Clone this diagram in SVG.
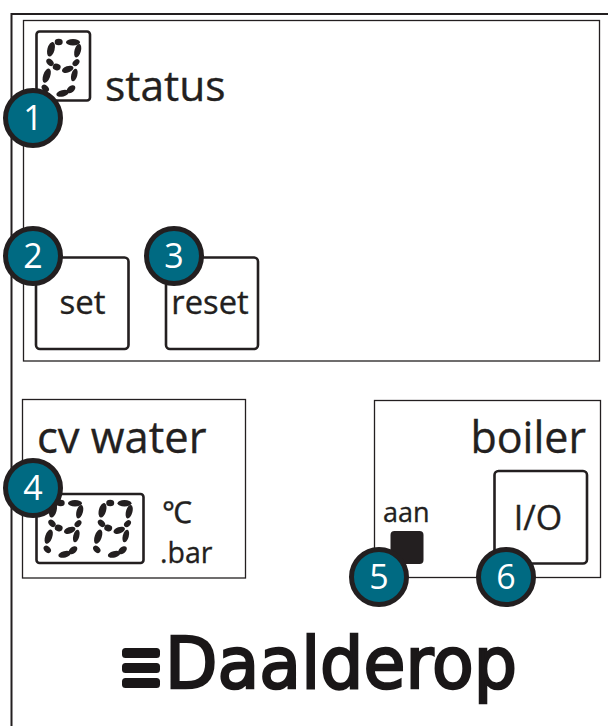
<svg xmlns="http://www.w3.org/2000/svg" width="608" height="726" viewBox="0 0 608 726">
<style>
text{font-family:"Open Sans","Noto Sans","Liberation Sans",sans-serif;fill:#231f20;stroke:#231f20;stroke-width:.35}
.line{fill:none;stroke:#231f20;stroke-width:1.300}
.outer{fill:none;stroke:#231f20;stroke-width:2}
.btn{fill:none;stroke:#231f20;stroke-width:2.600}
.seg{fill:#231f20}
.badge{fill:#006a82;stroke:#231f20;stroke-width:5}
text.num{fill:#fff;stroke:none;font-size:34px;text-anchor:middle}
.sm{font-size:27px}
</style>
<defs>
<g id="digit">
<ellipse class="seg" cx="16.700" cy="3" rx="4" ry="3.200"/>
<ellipse class="seg" cx="31" cy="3.300" rx="7" ry="3.200"/>
<ellipse class="seg" cx="9" cy="10.300" rx="3.600" ry="7.500" transform="rotate(15 9 10.300)"/>
<ellipse class="seg" cx="35.700" cy="11.700" rx="3.200" ry="7" transform="rotate(15 35.700 11.700)"/>
<ellipse class="seg" cx="8" cy="23.300" rx="4.200" ry="3" transform="rotate(45 8 23.300)"/>
<ellipse class="seg" cx="34" cy="23.700" rx="4" ry="2.800" transform="rotate(-45 34 23.700)"/>
<ellipse class="seg" cx="14.700" cy="28" rx="4" ry="3.300" transform="rotate(15 14.700 28)"/>
<ellipse class="seg" cx="25.700" cy="30.300" rx="6" ry="3.200" transform="rotate(-20 25.700 30.300)"/>
<ellipse class="seg" cx="4.700" cy="36.700" rx="3.500" ry="7.500" transform="rotate(20 4.700 36.700)"/>
<ellipse class="seg" cx="32.300" cy="36" rx="3" ry="6.500" transform="rotate(15 32.300 36)"/>
<ellipse class="seg" cx="3.300" cy="49.300" rx="4.200" ry="3" transform="rotate(45 3.300 49.300)"/>
<ellipse class="seg" cx="29" cy="50.300" rx="5" ry="3.200" transform="rotate(-40 29 50.300)"/>
<ellipse class="seg" cx="20.700" cy="54.300" rx="6.500" ry="3.200" transform="rotate(-15 20.700 54.300)"/>
</g>
</defs>
<rect width="608" height="726" fill="#fff"/>
<g id="frame"><path class="outer" d="M11.500 726V14H608"/></g>
<g id="status-panel">
<rect class="line" x="23.500" y="20.500" width="576" height="340.500"/>
<rect class="btn" x="36.500" y="31.500" width="53.500" height="69" rx="3"/>
<use href="#digit" x="42" y="39"/>
<text x="105" y="101" font-size="42.500">status</text>
</g>
<g id="set-button"><rect class="btn" x="36" y="257.500" width="92.500" height="91.500" rx="4"/><text x="82.500" y="314" font-size="33" text-anchor="middle">set</text></g>
<g id="reset-button"><rect class="btn" x="166" y="257.500" width="92" height="91.500" rx="4"/><text x="210" y="314" font-size="32.700" text-anchor="middle">reset</text></g>
<g id="cv-panel">
<rect class="line" x="22.500" y="399.500" width="223" height="178.500"/>
<text x="37" y="453" font-size="43.500">cv water</text>
<rect class="btn" x="36.500" y="494" width="107" height="69" rx="3"/>
<use href="#digit" x="44" y="500"/>
<use href="#digit" x="93.500" y="500"/>
<text x="162" y="523" font-size="30">℃</text>
<text x="160" y="563" font-size="28.500">.bar</text>
</g>
<g id="boiler-panel">
<rect class="line" x="374.500" y="400.500" width="226" height="177"/>
<text x="586" y="453" font-size="43" text-anchor="end">boiler</text>
</g>
<g id="aan-led"><text class="sm" x="383" y="522">aan</text><rect x="390.500" y="531" width="33" height="33" rx="4" fill="#231f20"/></g>
<g id="io-button"><rect class="btn" x="494.500" y="471" width="92.500" height="92.500" rx="4"/><text x="538" y="530" font-size="34" text-anchor="middle">I/O</text></g>
<g id="logo">
<rect x="122" y="648" width="38" height="10" rx="3.500" fill="#1a1718"/>
<rect x="122" y="663" width="38" height="10" rx="3.500" fill="#1a1718"/>
<rect x="122" y="678" width="38" height="10" rx="3.500" fill="#1a1718"/>
<text x="165" y="688" font-size="72" textLength="352" lengthAdjust="spacingAndGlyphs" style="font-family:'DejaVu Sans',sans-serif;fill:#1a1718;stroke:#1a1718;stroke-width:2.500">Daalderop</text>
</g>
<g id="connectors"/>
<g id="badge-1"><circle class="badge" cx="33" cy="118" r="27.500"/><text class="num" x="33" y="130">1</text></g>
<g id="badge-2"><circle class="badge" cx="33" cy="256" r="27.500"/><text class="num" x="33" y="268">2</text></g>
<g id="badge-3"><circle class="badge" cx="174" cy="256" r="27.500"/><text class="num" x="174" y="268">3</text></g>
<g id="badge-4"><circle class="badge" cx="33" cy="488" r="27.500"/><text class="num" x="33" y="500">4</text></g>
<g id="badge-5"><circle class="badge" cx="379" cy="577" r="27.500"/><text class="num" x="379" y="589">5</text></g>
<g id="badge-6"><circle class="badge" cx="506" cy="577" r="27.500"/><text class="num" x="506" y="589">6</text></g>
</svg>
